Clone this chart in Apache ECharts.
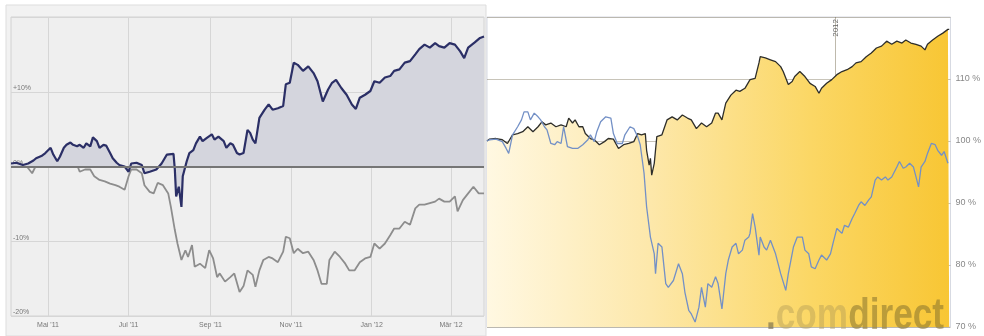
<!DOCTYPE html>
<html>
<head>
<meta charset="utf-8">
<script src="https://cdn.jsdelivr.net/npm/echarts@6/dist/echarts.min.js"></script>
<style>html,body{margin:0;padding:0;background:#fff;}#c{width:984px;height:336px;}</style>
</head>
<body>
<div id="c"></div>
<script>
// x values are days since 2011-04-03
const tickDays = [28, 89, 151, 212, 273, 333];
const tickLabels = ["Mai '11", "Jul '11", "Sep '11", "Nov '11", "Jan '12", "Mär '12"];
const yearDay = [273];
const yearLabel = ['2012'];

// left chart: performance in %
const leftStock = [[0,0.4],[4,0.5],[9,0.2],[13,0.4],[17,0.8],[19,1.1],[23,1.4],[26,1.8],[30,2.5],[32,1.6],[35,0.7],[37,1.3],[40,2.5],[42,2.9],[45,3.2],[47,2.9],[50,2.7],[52,2.9],[55,2.5],[57,3.1],[60,2.7],[62,3.9],[65,3.4],[67,2.5],[70,2.9],[72,2.8],[75,1.8],[77,1.1],[80,0.5],[82,0.2],[86,0],[89,-0.7],[91,0.4],[95,0.5],[99,0.2],[101,-0.9],[105,-0.7],[110,-0.4],[114,0.4],[118,1.6],[123,1.7],[124,-0.4],[125,-4.0],[127,-2.7],[129,-5.4],[130,-1.3],[133,0.7],[135,1.8],[138,2.2],[140,3.1],[143,4.0],[145,3.4],[148,3.8],[152,4.3],[154,3.6],[157,4.0],[161,3.4],[163,2.5],[166,3.1],[168,2.9],[171,1.8],[173,1.6],[176,1.8],[179,4.9],[181,4.5],[183,3.6],[185,3.1],[188,6.5],[192,7.6],[195,8.3],[198,7.6],[202,7.8],[206,8.1],[208,11.0],[211,11.2],[214,13.9],[217,13.6],[221,12.8],[225,13.4],[229,12.5],[232,11.4],[236,8.7],[240,10.3],[243,11.2],[246,11.6],[250,10.5],[254,9.6],[258,8.3],[261,7.7],[264,9.2],[268,9.6],[272,10.1],[275,11.4],[279,11.2],[283,11.9],[287,12.1],[290,12.8],[294,13.0],[298,13.9],[302,14.1],[306,15.0],[309,15.7],[313,16.3],[317,15.9],[321,16.5],[324,16.1],[328,15.9],[332,16.5],[336,16.3],[340,15.4],[343,14.5],[346,15.9],[351,16.6],[355,17.2],[358,17.4]];
const leftIndex = [[0,0.4],[7,0],[12,0],[16,-0.9],[18,-0.2],[22,0.9],[27,1.4],[32,1.0],[37,0.7],[42,0.9],[46,0.5],[50,0.2],[52,-0.7],[56,-0.4],[60,-0.4],[63,-1.3],[67,-1.8],[71,-2.0],[75,-2.3],[79,-2.5],[82,-2.7],[86,-3.1],[89,-1.3],[91,-0.4],[95,-0.4],[99,-0.9],[101,-2.5],[105,-3.4],[108,-3.6],[111,-2.2],[115,-2.5],[119,-3.6],[121,-5.4],[124,-8.5],[126,-10.3],[129,-12.5],[132,-11.2],[134,-12.1],[137,-10.5],[139,-13.4],[143,-13.0],[147,-13.6],[150,-11.2],[153,-12.3],[156,-14.8],[158,-14.3],[162,-15.4],[166,-14.8],[169,-14.3],[173,-16.8],[176,-16.0],[179,-13.9],[183,-14.5],[185,-16.1],[188,-13.9],[191,-12.5],[195,-12.1],[198,-12.3],[202,-12.8],[206,-11.4],[208,-9.4],[211,-9.6],[214,-11.6],[217,-11.0],[221,-11.6],[225,-11.4],[229,-12.5],[232,-13.9],[235,-15.7],[239,-15.7],[241,-12.5],[245,-11.4],[249,-12.1],[253,-13.0],[256,-13.9],[260,-13.9],[264,-12.8],[268,-12.3],[272,-12.1],[275,-10.3],[279,-11.0],[283,-10.3],[287,-9.2],[290,-8.3],[294,-8.3],[298,-7.4],[302,-7.8],[306,-5.6],[309,-5.1],[313,-5.1],[317,-4.9],[321,-4.7],[324,-4.3],[328,-4.7],[332,-4.7],[336,-4.0],[338,-6.0],[342,-4.5],[346,-3.6],[350,-2.7],[354,-3.6],[358,-3.6]];

// right chart: indexed to 100 %
const rightStock = [[0,100],[2,100.3],[7,100.4],[12,100.2],[16,99.6],[20,101.0],[24,101.2],[28,101.5],[32,102.3],[36,101.5],[40,102.3],[43,103.1],[46,102.6],[50,102.9],[54,102.3],[58,102.6],[62,102.3],[64,103.7],[67,102.9],[69,103.4],[72,102.3],[75,102.3],[77,101.2],[81,100.4],[84,100.2],[88,99.4],[92,99.9],[95,100.4],[99,100.3],[103,98.8],[107,99.4],[111,99.6],[115,99.9],[118,101.2],[121,101.0],[124,101.2],[125,98.5],[127,96.1],[128,97.2],[129,94.5],[131,96.4],[133,100.7],[137,101.0],[141,103.4],[145,103.9],[149,103.4],[153,104.2],[157,103.7],[160,103.4],[164,102.0],[168,102.9],[172,102.3],[176,102.9],[179,104.5],[181,104.5],[184,103.4],[187,106.1],[191,107.4],[195,108.2],[198,108.0],[202,108.5],[206,109.9],[210,110.1],[213,112.6],[214,113.6],[218,113.4],[222,113.1],[226,112.8],[230,112.0],[232,111.2],[236,109.1],[239,109.6],[241,110.4],[245,111.2],[249,110.4],[253,109.3],[257,108.8],[260,107.7],[262,108.5],[266,109.3],[270,109.9],[274,110.7],[278,111.2],[282,111.5],[286,112.0],[289,112.6],[293,112.8],[297,113.6],[301,114.2],[305,115.0],[309,115.3],[313,116.1],[317,115.6],[321,116.1],[325,115.8],[328,116.3],[332,115.8],[336,115.6],[340,115.3],[343,114.7],[345,115.6],[349,116.3],[353,116.9],[357,117.4],[361,118.0],[362,118.0]];
const rightIndex = [[0,100],[2,100.2],[7,100.3],[12,99.9],[15,98.8],[17,98.0],[20,101.0],[24,102.3],[27,103.4],[29,104.7],[32,104.7],[34,103.4],[37,104.5],[40,103.9],[42,103.4],[45,102.3],[47,101.8],[50,99.6],[53,99.4],[55,99.9],[58,99.6],[60,102.3],[63,99.1],[67,98.8],[71,98.8],[75,99.4],[79,100.2],[81,101.0],[84,99.9],[86,101.5],[89,103.1],[93,103.9],[97,103.7],[99,101.2],[102,99.6],[106,99.6],[108,101.0],[112,102.3],[115,102.0],[118,100.7],[120,99.4],[123,94.8],[125,89.4],[128,84.5],[131,81.8],[132,78.6],[134,83.5],[137,82.9],[140,77.0],[142,76.4],[146,77.5],[150,80.2],[153,78.6],[155,75.6],[158,72.7],[160,72.1],[163,70.8],[166,73.2],[168,76.4],[171,73.2],[173,77.0],[176,76.4],[179,78.1],[181,77.0],[183,74.3],[184,72.9],[187,78.6],[189,80.8],[192,82.9],[195,83.5],[197,81.8],[200,82.4],[202,84.0],[205,84.5],[206,85.1],[208,88.3],[210,86.1],[213,81.6],[214,84.5],[217,82.9],[219,82.4],[222,84.0],[226,81.8],[230,78.6],[234,75.9],[236,78.6],[240,82.9],[243,84.5],[247,84.5],[249,82.4],[252,81.8],[254,79.7],[257,79.4],[260,80.8],[262,81.6],[266,80.8],[269,81.8],[271,83.5],[274,85.9],[278,85.1],[280,86.4],[283,86.1],[286,87.5],[288,88.3],[291,89.6],[293,90.2],[296,89.6],[299,90.5],[301,91.0],[304,93.7],[306,94.2],[309,93.7],[312,94.2],[314,93.7],[317,94.2],[321,95.8],[323,96.7],[326,95.6],[328,95.8],[331,96.4],[334,95.8],[336,94.2],[338,92.6],[340,95.8],[343,96.7],[345,98.0],[348,99.6],[351,99.4],[353,98.5],[356,97.7],[358,98.3],[361,96.4]];

const chart = echarts.init(document.getElementById('c'), null, {renderer: 'canvas'});
const FONT = 'Liberation Sans, Arial, sans-serif';

chart.setOption({
  animation: false,
  backgroundColor: '#ffffff',
  graphic: [
    {type: 'rect', z: -10, silent: true, shape: {x: 6, y: 5, width: 480, height: 331},
     style: {fill: '#f2f2f2', stroke: '#dddddd', lineWidth: 1}},
    {type: 'text', z: 100, silent: true, x: 766, y: 317, scaleX: 0.8,
     style: {
       text: '{d|.}{a|com}{b|direct}', verticalAlign: 'middle', align: 'left',
       rich: {
         d: {fontSize: 44, fontWeight: 'bold', fontFamily: FONT, fill: 'rgba(110,100,70,0.6)'},
         a: {fontSize: 44, fontWeight: 'bold', fontFamily: FONT, fill: 'rgba(175,152,85,0.42)'},
         b: {fontSize: 44, fontWeight: 'bold', fontFamily: FONT, fill: 'rgba(135,115,45,0.55)'}
       }
     }}
  ],
  grid: [
    {left: 11, top: 17, width: 473, height: 299, show: true, backgroundColor: '#efefef', borderColor: '#d2d2d2', borderWidth: 1},
    {left: 487, top: 17, width: 465, height: 310, show: true, backgroundColor: 'transparent', borderColor: '#d6d9e2', borderWidth: 1}
  ],
  xAxis: [
    {gridIndex: 0, type: 'value', min: 0, max: 358,
     axisLine: {show: false},
     axisTick: {show: false, customValues: tickDays},
     axisLabel: {customValues: tickDays, color: '#777', fontSize: 7, fontFamily: FONT, margin: 6,
                 formatter: v => tickLabels[tickDays.indexOf(v)] || ''},
     splitLine: {show: true, lineStyle: {color: '#d6d6d6', width: 1}}},
    {gridIndex: 1, type: 'value', min: 0, max: 363, position: 'top',
     axisLine: {show: false},
     axisTick: {show: false, customValues: yearDay},
     axisLabel: {customValues: yearDay, inside: true, rotate: -90, color: '#666', fontSize: 8, fontFamily: FONT, margin: 2,
                 formatter: v => yearLabel[yearDay.indexOf(v)] || ''},
     splitLine: {show: true, lineStyle: {color: 'rgba(110,100,70,0.45)', width: 1}}}
  ],
  yAxis: [
    {gridIndex: 0, type: 'value', min: -20, max: 20, interval: 10,
     axisLine: {show: false}, axisTick: {show: false},
     axisLabel: {inside: true, color: '#777', fontSize: 7, fontFamily: FONT, verticalAlign: 'bottom', margin: 2,
                 formatter: v => v === 20 ? '' : (v > 0 ? '+' + v + '%' : v + '%')},
     splitLine: {show: true, lineStyle: {color: '#d6d6d6', width: 1}}},
    {gridIndex: 1, type: 'value', min: 70, max: 120, interval: 10, position: 'right',
     axisLine: {show: false}, axisTick: {show: false},
     axisLabel: {color: '#888', fontSize: 9, fontFamily: FONT, margin: 5,
                 formatter: v => v === 120 ? '' : v + ' %'},
     splitLine: {show: true, lineStyle: {color: 'rgba(110,100,70,0.38)', width: 1}}}
  ],
  series: [
    {type: 'line', xAxisIndex: 0, yAxisIndex: 0, data: leftIndex, showSymbol: false, symbol: 'none',
     lineStyle: {color: '#8d8d8d', width: 1.8}, z: 3},
    {type: 'line', xAxisIndex: 0, yAxisIndex: 0, data: leftStock, showSymbol: false, symbol: 'none',
     lineStyle: {color: '#2b2f66', width: 2.2}, areaStyle: {origin: 0, color: '#d4d5dd', opacity: 1}, z: 4,
     markLine: {silent: true, symbol: 'none', label: {show: false}, data: [{yAxis: 0}],
                lineStyle: {color: '#757575', width: 2, type: 'solid'}}},
    {type: 'line', xAxisIndex: 1, yAxisIndex: 1, data: rightStock, showSymbol: false, symbol: 'none',
     lineStyle: {color: '#2e2e2a', width: 1.3}, z: 3,
     areaStyle: {origin: 'start', opacity: 1,
       color: new echarts.graphic.LinearGradient(0, 0, 1, 0, [
         {offset: 0, color: '#fff8e2'}, {offset: 0.35, color: '#fde8ab'},
         {offset: 0.7, color: '#fbd765'}, {offset: 1, color: '#f8c634'}])}},
    {type: 'line', xAxisIndex: 1, yAxisIndex: 1, data: rightIndex, showSymbol: false, symbol: 'none',
     lineStyle: {color: '#7390c6', width: 1.3}, z: 4}
  ]
});
</script>
</body>
</html>
